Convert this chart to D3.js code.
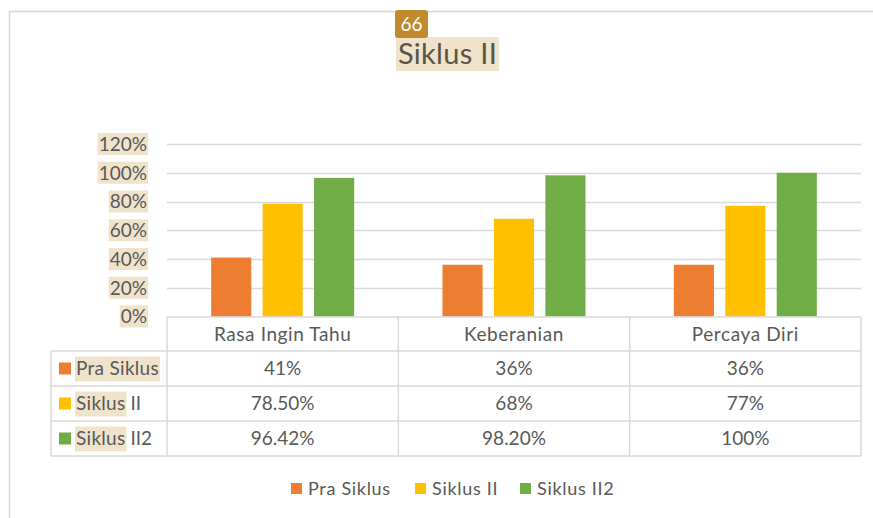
<!DOCTYPE html>
<html><head><meta charset="utf-8">
<script src="https://cdn.jsdelivr.net/npm/d3@7"></script>
<style>body{margin:0;background:#fff}svg{display:block}</style>
</head><body><svg id="c" width="873" height="518"></svg>
<script>
const categories = ["Rasa Ingin Tahu", "Keberanian", "Percaya Diri"];
const seriesNames = ["Pra Siklus", "Siklus II", "Siklus II2"];
const praSiklus = [0.41, 0.36, 0.36];
const siklusII = [0.785, 0.68, 0.77];
const siklusII2 = [0.9642, 0.982, 1.0];
const tableLabels = [["41%", "36%", "36%"], ["78.50%", "68%", "77%"], ["96.42%", "98.20%", "100%"]];
const yTicks = [0, 0.2, 0.4, 0.6, 0.8, 1.0, 1.2];
const colors = ["#ED7D31", "#FFC000", "#70AD47"];
const title = "Siklus II";
const badge = "66";

const series = [praSiklus, siklusII, siklusII2];
const svg = d3.select("#c");
const FONT = "Lato, 'Open Sans', sans-serif";
const TXT = "#595959";
const HL = "#EFE3CC";
const GRID = "#D9D9D9";

// outer frame
svg.append("path").attr("d", "M9.5,518 V11.5 H873").attr("fill", "none").attr("stroke", "#d6d6d6").attr("stroke-width", 1.5);

const left = 167, right = 861;
const y = d3.scaleLinear().domain([0, 1.2]).range([316.5, 144]);
const x = d3.scaleBand().domain(categories).range([left, right]).padding(0);
const inner = d3.scaleBand().domain(seriesNames).range([0, 143]).paddingInner(0.22);

// grid
svg.append("g").selectAll("line").data(yTicks.filter(d => d > 0)).join("line")
  .attr("x1", left).attr("x2", right)
  .attr("y1", d => Math.round(y(d)) + 0.5).attr("y2", d => Math.round(y(d)) + 0.5)
  .attr("stroke", GRID).attr("stroke-width", 1.5);

// y labels
const yl = svg.append("g");
yTicks.forEach(t => {
  const g = yl.append("g");
  const hl = g.append("rect").attr("fill", HL);
  const txt = g.append("text").attr("x", 147).attr("y", y(t)).attr("dy", "0.36em")
    .attr("text-anchor", "end").attr("font-family", FONT).attr("font-size", 19).attr("fill", TXT)
    .text(d3.format(".0%")(t));
  const b = txt.node().getBBox();
  hl.attr("x", b.x - 1).attr("y", y(t) - 11).attr("width", b.width + 2).attr("height", 22);
});

// bars
series.forEach((vals, si) => {
  svg.append("g").selectAll("rect").data(vals).join("rect")
    .attr("x", (d, i) => x(categories[i]) + (x.bandwidth() - 143) / 2 + inner(seriesNames[si]))
    .attr("width", inner.bandwidth())
    .attr("y", d => y(d)).attr("height", d => y(0) - y(d))
    .attr("fill", colors[si]);
});

// data table
const rows = [317, 351, 386, 421, 456];
const tg = svg.append("g").attr("stroke", GRID).attr("stroke-width", 1.5).attr("fill", "none");
tg.append("line").attr("x1", left).attr("x2", right).attr("y1", rows[0]).attr("y2", rows[0]);
for (let r = 1; r < rows.length; r++) tg.append("line").attr("x1", 51).attr("x2", right).attr("y1", rows[r]).attr("y2", rows[r]);
tg.append("line").attr("x1", 51).attr("x2", 51).attr("y1", rows[1]).attr("y2", rows[4]);
categories.forEach(c => tg.append("line").attr("x1", x(c)).attr("x2", x(c)).attr("y1", rows[0]).attr("y2", rows[4]));
tg.append("line").attr("x1", right).attr("x2", right).attr("y1", rows[0]).attr("y2", rows[4]);

categories.forEach(c => svg.append("text").attr("x", x(c) + x.bandwidth() / 2).attr("y", (rows[0] + rows[1]) / 2).attr("dy", "0.36em")
  .attr("text-anchor", "middle").attr("font-family", FONT).attr("font-size", 19).attr("fill", TXT).attr("letter-spacing", 0.6).text(c));

seriesNames.forEach((s, si) => {
  const cy = (rows[si + 1] + rows[si + 2]) / 2;
  const g = svg.append("g");
  g.append("rect").attr("x", 59).attr("y", cy - 6).attr("width", 12).attr("height", 12).attr("fill", colors[si]);
  const parts = s === "Pra Siklus" ? [s, ""] : ["Siklus", s.slice(6)];
  const hl = g.append("rect").attr("fill", HL);
  const t1 = g.append("text").attr("x", 76).attr("y", cy).attr("dy", "0.36em")
    .attr("font-family", FONT).attr("font-size", 19).attr("letter-spacing", 0.3).attr("fill", TXT).text(parts[0]);
  const b = t1.node().getBBox();
  hl.attr("x", b.x - 1).attr("y", cy - 12).attr("width", b.width + 2).attr("height", 25);
  if (parts[1]) g.append("text").attr("x", b.x + b.width).attr("y", cy).attr("dy", "0.36em")
    .attr("font-family", FONT).attr("font-size", 19).attr("fill", TXT).attr("xml:space", "preserve").text(parts[1]);
  categories.forEach((c, ci) => g.append("text").attr("x", x(c) + x.bandwidth() / 2).attr("y", cy).attr("dy", "0.36em")
    .attr("text-anchor", "middle").attr("font-family", FONT).attr("font-size", 19).attr("fill", TXT).text(tableLabels[si][ci]));
});

// title
const tg2 = svg.append("g");
tg2.append("rect").attr("x", 396).attr("y", 37).attr("width", 103).attr("height", 34).attr("fill", HL);
tg2.append("text").attr("x", 447.5).attr("y", 54).attr("dy", "0.36em").attr("text-anchor", "middle")
  .attr("font-family", FONT).attr("font-size", 29).attr("letter-spacing", 0.3).attr("fill", "#5c5545").text(title);
tg2.append("rect").attr("x", 395).attr("y", 10).attr("width", 33).attr("height", 28).attr("rx", 3).attr("fill", "#BF8A2E");
tg2.append("text").attr("x", 411.5).attr("y", 24).attr("dy", "0.36em").attr("text-anchor", "middle")
  .attr("font-family", FONT).attr("font-size", 19).attr("fill", "#fff").text(badge);

// legend
const legX = [291, 415, 520];
seriesNames.forEach((s, si) => {
  svg.append("rect").attr("x", legX[si]).attr("y", 483).attr("width", 11).attr("height", 11).attr("fill", colors[si]);
  svg.append("text").attr("x", legX[si] + 17).attr("y", 489).attr("dy", "0.36em")
    .attr("font-family", FONT).attr("font-size", 18).attr("letter-spacing", 0.7).attr("fill", TXT).text(s);
});
</script></body></html>
